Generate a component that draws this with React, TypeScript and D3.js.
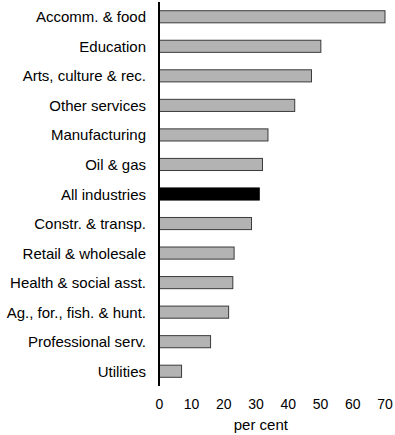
import React from "react";
import * as d3 from "d3";

const categories = [
  "Accomm. & food",
  "Education",
  "Arts, culture & rec.",
  "Other services",
  "Manufacturing",
  "Oil & gas",
  "All industries",
  "Constr. & transp.",
  "Retail & wholesale",
  "Health & social asst.",
  "Ag., for., fish. & hunt.",
  "Professional serv.",
  "Utilities",
];
const values = [70, 50.1, 47.2, 42.0, 33.7, 32.0, 31.0, 28.6, 23.2, 22.8, 21.5, 15.9, 6.9];
const highlight = "All industries";
const xTicks = [0, 10, 20, 30, 40, 50, 60, 70];
const xLabel = "per cent";

const W = 395;
const H = 435;
const FONT = "'Liberation Sans', Arial, Helvetica, sans-serif";

export default function App() {
  const x = d3.scaleLinear().domain([0, 70]).range([159.3, 385]);
  const y = d3
    .scaleBand<string>()
    .domain(categories)
    .range([2, 386])
    .paddingInner(0.59)
    .paddingOuter(0.295);
  const bw = y.bandwidth();

  return (
    <svg
      width={W}
      height={H}
      style={{ position: "absolute", left: 0, top: 0 }}
      fontFamily={FONT}
    >
      {categories.map((c, i) => (
        <g key={c}>
          <rect
            x={x(0)}
            y={y(c)!}
            width={x(values[i]) - x(0)}
            height={bw}
            fill={c === highlight ? "#000" : "#b3b3b3"}
            stroke={c === highlight ? "#000" : "#3a3a3a"}
            strokeWidth={1}
          />
          <text
            x={146}
            y={y(c)! + bw / 2}
            textAnchor="end"
            dominantBaseline="central"
            fontSize={15}
            fill="#000"
          >
            {c}
          </text>
        </g>
      ))}
      <line x1={159} x2={159} y1={2} y2={386} stroke="#000" strokeWidth={2} />
      {xTicks.map((t) => (
        <text key={t} x={x(t)} y={408.5} textAnchor="middle" fontSize={14} fill="#000">
          {t}
        </text>
      ))}
      <text x={x(31.5)} y={430} textAnchor="middle" fontSize={15} fill="#000">
        {xLabel}
      </text>
    </svg>
  );
}
